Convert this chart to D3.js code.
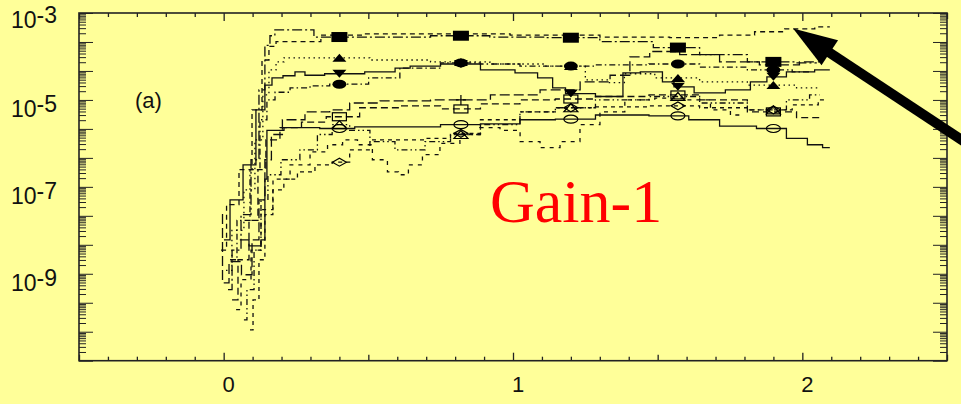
<!DOCTYPE html>
<html><head><meta charset="utf-8">
<script src="https://cdn.jsdelivr.net/npm/d3@7"></script>
<style>html,body{margin:0;padding:0;background:#ffff99;} svg{display:block}</style>
</head><body><svg width="961" height="404"></svg>
<script>
// ---- data ----
const markerX = [0.40, 0.82, 1.20, 1.57, 1.90];
const xTickLabels = ["0", "1", "2"];
const xTickValues = [0, 1, 2];
const yTickExps = [-3, -5, -7, -9];

const sq = [[0.015,4.3e-10],[0.043,3.5e-9],[0.077,2.3e-8],[0.112,4.2e-7],[0.132,1.7e-5],[0.153,1.8e-4],[0.167,3.0e-4],[0.187,4.1e-4],[0.298,4.1e-4],[0.326,2.8e-4],[0.40,2.8e-4],[0.61,2.8e-4],[0.82,3.0e-4],[1.02,2.8e-4],[1.20,2.7e-4],[1.40,2.2e-4],[1.57,1.6e-4],[1.72,1.1e-4],[1.90,7.5e-5],[2.05,7.1e-5]];
const topLine = [[-0.009,3.5e-9],[0.029,3.9e-8],[0.077,2.5e-7],[0.119,5.9e-6],[0.146,8.3e-5],[0.167,1.7e-4],[0.195,2.2e-4],[0.305,2.2e-4],[0.367,3.1e-4],[0.609,3.3e-4],[0.817,3.3e-4],[1.163,3.1e-4],[1.438,2.8e-4],[1.645,2.7e-4],[1.783,3.1e-4],[1.887,3.7e-4],[1.991,4.3e-4],[2.095,4.8e-4]];
const triUp = [[0.008,1.2e-9],[0.049,1.0e-8],[0.091,8.5e-8],[0.125,1.2e-6],[0.146,1.3e-5],[0.167,4.9e-5],[0.195,7.5e-5],[0.222,9.3e-5],[0.40,9.3e-5],[0.61,8.3e-5],[0.82,7.5e-5],[1.02,6.7e-5],[1.20,6.0e-5],[1.30,2.9e-5],[1.36,2.5e-5],[1.41,4.0e-5],[1.57,3.2e-5],[1.72,2.6e-5],[1.90,2.2e-5],[2.06,1.9e-5]];
const triDn = [[0.001,6.0e-9],[0.043,5.0e-8],[0.091,3.2e-7],[0.132,5.9e-6],[0.153,2.2e-5],[0.181,3.2e-5],[0.229,3.6e-5],[0.264,4.4e-5],[0.298,3.7e-5],[0.40,4.0e-5],[0.575,4.4e-5],[0.61,5.4e-5],[0.679,6.0e-5],[0.82,6.7e-5],[0.955,4.9e-5],[1.059,4.2e-5],[1.111,3.2e-5],[1.163,1.9e-5],[1.20,1.4e-5],[1.37,1.2e-5],[1.39,4.2e-5],[1.49,4.4e-5],[1.543,2.6e-5],[1.57,2.0e-5],[1.682,1.45e-5],[1.786,1.7e-5],[1.855,2.6e-5],[1.90,3.4e-5],[1.99,4.4e-5],[2.095,4.9e-5]];
const circ = [[0.022,2.1e-9],[0.07,1.7e-8],[0.112,2.5e-7],[0.139,3.5e-6],[0.16,1.0e-5],[0.195,1.5e-5],[0.264,1.9e-5],[0.333,2.1e-5],[0.40,2.3e-5],[0.463,2.3e-5],[0.539,3.2e-5],[0.679,5.4e-5],[0.82,7.1e-5],[0.955,6.7e-5],[1.093,6.0e-5],[1.20,6.0e-5],[1.37,6.4e-5],[1.57,6.7e-5],[1.72,5.7e-5],[1.90,4.9e-5],[2.03,4.4e-5]];
const osq = [[0.029,2.5e-10],[0.07,2.1e-9],[0.105,1.7e-8],[0.132,2.5e-7],[0.16,1.2e-6],[0.229,2.3e-6],[0.309,3.1e-6],[0.40,4.1e-6],[0.54,6.6e-6],[0.679,7.3e-6],[0.82,6.2e-6],[0.955,8.1e-6],[1.093,1.0e-5],[1.20,1.05e-5],[1.37,1.2e-5],[1.57,1.3e-5],[1.72,1.0e-5],[1.90,5.3e-6],[2.06,3.9e-6]];
const ocirc = [[0.056,6.0e-9],[0.119,4.4e-9],[0.139,6.0e-9],[0.146,1.5e-7],[0.153,2.0e-6],[0.264,2.3e-6],[0.40,2.2e-6],[0.506,2.4e-6],[0.679,2.4e-6],[0.82,2.7e-6],[0.955,2.8e-6],[1.093,3.5e-6],[1.20,3.6e-6],[1.37,4.5e-6],[1.57,4.3e-6],[1.645,3.5e-6],[1.783,2.5e-6],[1.90,2.2e-6],[1.99,1.3e-6],[2.045,9.3e-7],[2.095,8.0e-7]];
const odia = [[0.091,5.1e-11],[0.112,2.5e-10],[0.132,2.1e-9],[0.153,2.3e-8],[0.187,8.5e-8],[0.229,1.5e-7],[0.281,2.2e-7],[0.35,3.2e-7],[0.40,3.7e-7],[0.471,7.1e-7],[0.54,1.2e-6],[0.644,1.2e-6],[0.748,1.3e-6],[0.82,1.7e-6],[0.955,3.5e-6],[1.093,5.3e-6],[1.20,6.6e-6],[1.37,6.9e-6],[1.57,7.3e-6],[1.72,6.6e-6],[1.90,5.9e-6],[2.03,7.7e-6],[2.08,1.0e-5]];
const vDash = [[0.043,1.5e-10],[0.077,7.3e-10],[0.112,3.5e-9],[0.146,3.0e-8],[0.195,1.5e-7],[0.264,3.2e-7],[0.333,6.4e-7],[0.385,9.3e-7],[0.437,1.2e-6],[0.488,9.3e-7],[0.54,4.2e-7],[0.592,2.2e-7],[0.616,1.9e-7],[0.661,3.2e-7],[0.713,5.5e-7],[0.782,1.0e-6],[0.851,1.6e-6],[0.92,2.3e-6],[0.99,2.0e-6],[1.059,1.1e-6],[1.128,8.0e-7],[1.197,1.1e-6],[1.266,2.7e-6],[1.335,5.3e-6],[1.438,1.0e-5],[1.542,1.1e-5],[1.645,1.0e-5],[1.72,5.9e-6],[1.783,4.5e-6]];
const otri = [[0.07,8.7e-11],[0.091,4.3e-10],[0.119,3.5e-9],[0.139,5.0e-8],[0.167,1.9e-7],[0.229,4.2e-7],[0.298,7.1e-7],[0.35,1.6e-6],[0.40,2.7e-6],[0.471,2.0e-6],[0.54,1.1e-6],[0.644,7.1e-7],[0.748,1.1e-6],[0.82,1.6e-6],[0.955,2.7e-6],[1.093,5.3e-6],[1.20,6.6e-6],[1.37,1.0e-5],[1.57,1.2e-5],[1.72,8.5e-6],[1.90,5.9e-6],[1.99,1.0e-5],[2.06,1.3e-5]];
const plusLine = [[-0.006,2.3e-8],[-0.002,6.2e-10],[0.039,1.9e-9],[0.084,9.5e-10],[0.112,6.0e-9],[0.132,5.0e-8],[0.153,4.2e-7],[0.177,1.6e-6],[0.229,3.5e-6],[0.333,5.3e-6],[0.40,5.9e-6],[0.471,8.5e-6],[0.61,9.5e-6],[0.82,1.0e-5],[1.024,1.3e-5],[1.163,1.7e-5],[1.301,2.6e-5],[1.37,3.7e-5],[1.438,9.8e-5],[1.507,1.3e-4],[1.645,1.1e-4],[1.783,7.5e-5],[1.92,6.4e-5],[2.06,7.5e-5]];

const seriesList = [
  {data: sq,       dash: "10,3,2,3",     marker: "fsq"},
  {data: topLine,  dash: "5,4",          marker: null},
  {data: triUp,    dash: "1.5,3.5",      marker: "ftu"},
  {data: triDn,    dash: null,           marker: "ftd"},
  {data: circ,     dash: "6,3,1.5,3",    marker: "fci"},
  {data: osq,      dash: "7,4",          marker: "osq"},
  {data: ocirc,    dash: null,           marker: "oci"},
  {data: odia,     dash: "4,4",          marker: "odi"},
  {data: vDash,    dash: "4,5",          marker: null},
  {data: otri,     dash: "6,3,1.5,3,1.5,3", marker: "otu"},
  {data: plusLine, dash: "10,4",         marker: "plus"}
];

// ---- chart ----
const W = 961, H = 404;
const L = 79, R = 947, T = 13, B = 360.7;
const svg = d3.select("svg");
svg.append("rect").attr("width", W).attr("height", H).attr("fill", "#ffff99");

const x = d3.scaleLinear().domain([-0.5, 2.5]).range([L, R]);
const y = d3.scaleLog().domain([1e-11, 1e-3]).range([B, T]);
const yt = d3.scaleLinear().domain([0, 12]).range([B, T]);

const axisColor = "#222";
const font = "'Liberation Sans', Arial, sans-serif";

// X ticks (bottom & top, inward)
const minorX = d3.range(-5, 26).map(i => i / 10).filter(v => Math.abs(v - Math.round(v)) > 1e-6 && Math.abs(v * 2 - Math.round(v * 2)) > 1e-6);
const midX = [-0.5, 0.5, 1.5, 2.5];
function xAxes(values, len) {
  svg.append("g").attr("transform", `translate(0,${B})`)
    .call(d3.axisBottom(x).tickValues(values).tickSizeInner(-len).tickSizeOuter(0).tickFormat(""))
    .call(g => g.select(".domain").remove())
    .call(g => g.selectAll("line").attr("stroke", axisColor).attr("stroke-width", 1.3));
  svg.append("g").attr("transform", `translate(0,${T})`)
    .call(d3.axisTop(x).tickValues(values).tickSizeInner(-len).tickSizeOuter(0).tickFormat(""))
    .call(g => g.select(".domain").remove())
    .call(g => g.selectAll("line").attr("stroke", axisColor).attr("stroke-width", 1.3));
}
xAxes(minorX, 4);
xAxes(midX, 6);
xAxes(xTickValues, 8);

// Y ticks (left & right)
const longY = d3.range(0, 13);
const minorY = [];
for (let i = 0; i < 12; i++) for (let k = 2; k <= 9; k++) minorY.push(i + Math.log10(k));
function yAxes(values, len) {
  svg.append("g").attr("transform", `translate(${L},0)`)
    .call(d3.axisLeft(yt).tickValues(values).tickSizeInner(-len).tickSizeOuter(0).tickFormat(""))
    .call(g => g.select(".domain").remove())
    .call(g => g.selectAll("line").attr("stroke", axisColor).attr("stroke-width", 1));
  svg.append("g").attr("transform", `translate(${R},0)`)
    .call(d3.axisRight(yt).tickValues(values).tickSizeInner(-len).tickSizeOuter(0).tickFormat(""))
    .call(g => g.select(".domain").remove())
    .call(g => g.selectAll("line").attr("stroke", axisColor).attr("stroke-width", 1));
}
yAxes(minorY, 7);
yAxes(longY, 14);

// frame
svg.append("rect").attr("x", L).attr("y", T).attr("width", R - L).attr("height", B - T)
  .attr("fill", "none").attr("stroke", axisColor).attr("stroke-width", 1.6);

// x labels
svg.append("g").selectAll("text").data(xTickValues).join("text")
  .attr("x", d => x(d) + 5).attr("y", 392)
  .attr("text-anchor", "middle").attr("font-family", font).attr("font-size", 22).attr("fill", "#111")
  .text((d, i) => xTickLabels[i]);

// y labels
const yl = svg.append("g").selectAll("text").data(yTickExps).join("text")
  .attr("x", 11).attr("y", (d, i) => y(Math.pow(10, d)) + (i === 0 ? 15 : 17))
  .attr("font-family", font).attr("font-size", 23).attr("fill", "#111");
yl.append("tspan").text("10");
yl.append("tspan").attr("dy", -5).text(d => String(d));

// lines
const line = d3.line().x(d => x(d[0])).y(d => y(d[1])).curve(d3.curveStep);
const gl = svg.append("g");
seriesList.forEach(s => {
  gl.append("path").datum(s.data).attr("d", line)
    .attr("fill", "none").attr("stroke", "#111").attr("stroke-width", 1.3)
    .attr("stroke-dasharray", s.dash);
});

// markers
function drawMarker(g, type, px, py) {
  const c = "#000";
  if (type === "fsq") g.append("rect").attr("x", px - 8).attr("y", py - 5).attr("width", 16).attr("height", 10).attr("fill", c);
  else if (type === "osq") g.append("rect").attr("x", px - 7).attr("y", py - 4).attr("width", 14).attr("height", 8).attr("fill", "none").attr("stroke", c).attr("stroke-width", 1.2);
  else if (type === "ftu") g.append("path").attr("d", `M${px - 7},${py + 4}L${px + 7},${py + 4}L${px},${py - 4}Z`).attr("fill", c);
  else if (type === "ftd") g.append("path").attr("d", `M${px - 7},${py - 4}L${px + 7},${py - 4}L${px},${py + 4}Z`).attr("fill", c);
  else if (type === "otu") g.append("path").attr("d", `M${px - 7},${py + 4}L${px + 7},${py + 4}L${px},${py - 4}Z`).attr("fill", "none").attr("stroke", c).attr("stroke-width", 1.2);
  else if (type === "fci") g.append("ellipse").attr("cx", px).attr("cy", py).attr("rx", 7).attr("ry", 4.5).attr("fill", c);
  else if (type === "oci") g.append("ellipse").attr("cx", px).attr("cy", py).attr("rx", 7).attr("ry", 4).attr("fill", "none").attr("stroke", c).attr("stroke-width", 1.2);
  else if (type === "odi") g.append("path").attr("d", `M${px - 7},${py}L${px},${py - 4}L${px + 7},${py}L${px},${py + 4}Z`).attr("fill", "none").attr("stroke", c).attr("stroke-width", 1.2);
  else if (type === "plus") g.append("path").attr("d", `M${px - 5},${py}L${px + 5},${py}M${px},${py - 5}L${px},${py + 5}`).attr("stroke", c).attr("stroke-width", 1.2);
}
const gm = svg.append("g");
seriesList.forEach(s => {
  if (!s.marker) return;
  s.data.filter(d => markerX.some(m => Math.abs(m - d[0]) < 1e-9))
    .filter(d => s.marker !== "plus" || Math.abs(d[0] - 0.82) < 1e-9)
    .forEach(d => drawMarker(gm, s.marker, x(d[0]), y(d[1])));
});

// annotations
svg.append("text").attr("x", 135).attr("y", 108).attr("font-family", font).attr("font-size", 22).attr("fill", "#111").text("(a)");
svg.append("text").attr("x", 490).attr("y", 222).attr("font-family", "'Liberation Serif', 'Times New Roman', serif")
  .attr("font-size", 62).attr("fill", "#ff0000").text("Gain-1");

// arrow pointing at the top line
const tip = [x(1.968), y(4.4e-4)];
const dir = [168, 111], dl = Math.hypot(dir[0], dir[1]);
const u = [dir[0] / dl, dir[1] / dl], p = [-u[1], u[0]];
const headLen = 44, headHalf = 15;
const base = [tip[0] + u[0] * headLen, tip[1] + u[1] * headLen];
svg.append("line").attr("x1", base[0] - u[0] * 4).attr("y1", base[1] - u[1] * 4)
  .attr("x2", tip[0] + u[0] * 260).attr("y2", tip[1] + u[1] * 260)
  .attr("stroke", "#000").attr("stroke-width", 10);
svg.append("path").attr("d", `M${tip[0]},${tip[1]}L${base[0] + p[0] * headHalf},${base[1] + p[1] * headHalf}L${base[0] - p[0] * headHalf},${base[1] - p[1] * headHalf}Z`).attr("fill", "#000");
</script></body></html>
